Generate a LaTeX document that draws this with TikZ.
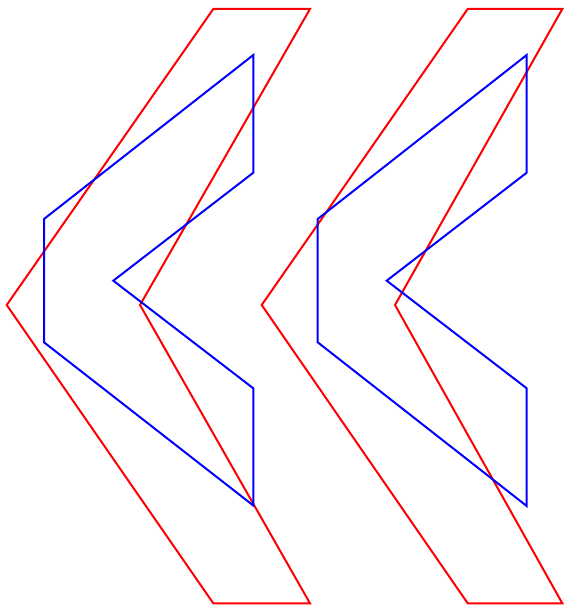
\documentclass[tikz,border=0pt]{standalone}
\usepackage{tikz}
\tikzset{
  redarrow/.style={draw=red,line width=2pt,line join=miter},
  bluearrow/.style={draw=blue,line width=2pt,line join=miter},
}
\begin{document}
\begin{tikzpicture}[x=1pt,y=-1pt]
\useasboundingbox (0,0) rectangle (563,610);
% left pair
\draw[redarrow] (213.3,9) -- (310,9) -- (140,305) -- (310,603.3) -- (213.3,603.3) -- (6.7,305) -- cycle;
\draw[bluearrow] (253.3,55) -- (253.3,172.7) -- (113.3,280.7) -- (253.3,388.3) -- (253.3,505.5) -- (44,342.3) -- (44,219) -- cycle;
% right pair
\draw[redarrow] (467.7,9) -- (562.3,9) -- (395,305) -- (562.3,603.3) -- (467.7,603.3) -- (261.7,305) -- cycle;
\draw[bluearrow] (526.7,55) -- (526.7,172.7) -- (386.7,280.7) -- (526.7,388.3) -- (526.7,506) -- (317.7,342.3) -- (317.7,219) -- cycle;
\end{tikzpicture}
\end{document}
